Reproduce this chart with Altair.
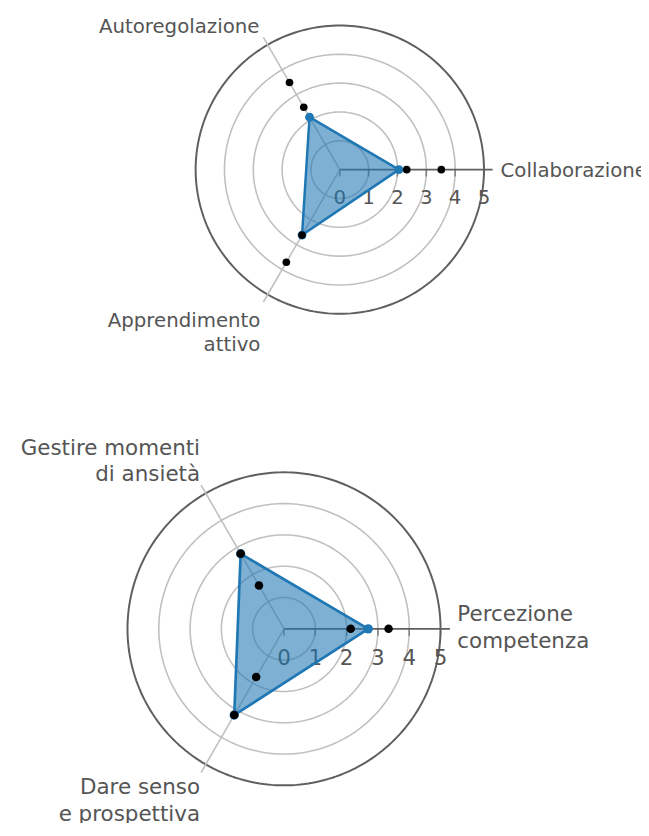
import altair as alt
import numpy as np
import pandas as pd

# ---------------- data ----------------
angles_deg = [0, 120, 240]
tick_values = [0, 1, 2, 3, 4, 5]
tick_labels = ["0", "1", "2", "3", "4", "5"]
grid_levels = [1, 2, 3, 4, 5]
axis_max = 5.3

top_categories = ["Collaborazione", "Autoregolazione", "Apprendimento\nattivo"]
top_blue = [2.05, 2.1, 2.62]
top_black_a = [2.32, 2.5, 2.62]
top_black_b = [3.52, 3.49, 3.71]

bottom_categories = ["Percezione\ncompetenza", "Gestire momenti\ndi ansietà", "Dare senso\ne prospettiva"]
bottom_blue = [2.69, 2.77, 3.18]
bottom_black_a = [2.13, 2.77, 3.18]
bottom_black_b = [3.34, 1.6, 1.78]

FONT = "DejaVu Sans"
TXT = "#555555"
BLUE = "#1f77b4"


def polar_df(values, extra=None):
    th = np.deg2rad(angles_deg)
    v = np.array(values, dtype=float)
    df = pd.DataFrame({"x": v * np.cos(th), "y": v * np.sin(th)})
    if extra:
        for key, val in extra.items():
            df[key] = val
    return df


def radar(cats, blue, black_a, black_b, k, cx, cy, W, H, font_size,
          label_styles, line_h, tick_dy, pt_blue, pt_black, line_w):
    xdom = [-cx / k, (W - cx) / k]
    ydom = [-(H - cy) / k, cy / k]
    X = alt.X("x:Q", scale=alt.Scale(domain=xdom, nice=False, zero=False), axis=None)
    Y = alt.Y("y:Q", scale=alt.Scale(domain=ydom, nice=False, zero=False), axis=None)

    # grid circles
    t = np.linspace(0, 2 * np.pi, 241)
    rows = []
    for lv in grid_levels:
        for i, tt in enumerate(t):
            rows.append({"x": lv * np.cos(tt), "y": lv * np.sin(tt), "o": i, "lv": lv})
    grid = pd.DataFrame(rows)
    inner = alt.Chart(grid[grid.lv < 5]).mark_line(
        color="#c0c0c0", strokeWidth=1.6
    ).encode(x=X, y=Y, detail="lv:N", order="o:Q")
    outer = alt.Chart(grid[grid.lv == 5]).mark_line(
        color="#5f5f5f", strokeWidth=2
    ).encode(x=X, y=Y, detail="lv:N", order="o:Q")

    # axis lines
    th = np.deg2rad(angles_deg)
    ax = pd.DataFrame({
        "x": [0.0] * 3, "y": [0.0] * 3,
        "x2": axis_max * np.cos(th), "y2": axis_max * np.sin(th),
        "c": ["#5f5f5f", "#c0c0c0", "#c0c0c0"],
    })
    axes = alt.Chart(ax).mark_rule(strokeWidth=1.6).encode(
        x=X, y=Y, x2="x2:Q", y2="y2:Q", color=alt.Color("c:N", scale=None)
    )

    # ticks + tick labels
    tk = pd.DataFrame({"x": tick_values, "y": [0] * len(tick_values), "lab": tick_labels})
    ticks = alt.Chart(tk).mark_tick(
        orient="vertical", size=7, thickness=1.5, yOffset=3.5, color="#5f5f5f"
    ).encode(x=X, y=Y)
    tlabels = alt.Chart(tk).mark_text(
        dy=tick_dy, fontSize=font_size, font=FONT, color=TXT, baseline="middle"
    ).encode(x=X, y=Y, text="lab:N")

    # polygon
    poly = polar_df(blue, {"o": [0, 1, 2]})
    poly = pd.concat([poly, poly.iloc[[0]].assign(o=3)], ignore_index=True)
    area = alt.Chart(poly).mark_line(
        fill=BLUE, fillOpacity=0.58, stroke=BLUE, strokeWidth=line_w
    ).encode(x=X, y=Y, order="o:Q")

    bpts = alt.Chart(polar_df(blue)).mark_circle(size=pt_blue, color=BLUE, opacity=1).encode(x=X, y=Y)
    kdf = pd.concat([polar_df(black_a), polar_df(black_b)], ignore_index=True)
    kpts = alt.Chart(kdf).mark_circle(size=pt_black, color="black", opacity=1).encode(x=X, y=Y)

    layers = [inner, outer, axes, ticks, tlabels, area, bpts, kpts]

    # category labels
    for i, cat in enumerate(cats):
        align, dx, dy = label_styles[i]
        ldf = pd.DataFrame({
            "x": [axis_max * np.cos(th[i])], "y": [axis_max * np.sin(th[i])], "lab": [cat]
        })
        layers.append(alt.Chart(ldf).mark_text(
            align=align, baseline="alphabetic", dx=dx, dy=dy, lineBreak="\n",
            lineHeight=line_h, fontSize=font_size, font=FONT, color=TXT, clip=True
        ).encode(x=X, y=Y, text="lab:N"))

    return alt.layer(*layers).properties(width=W, height=H)


top = radar(top_categories, top_blue, top_black_a, top_black_b,
            k=29.2, cx=336, cy=158.5, W=641, H=372, font_size=20,
            label_styles=[("left", 8, 7), ("right", -4, -4), ("right", -3, 25)],
            line_h=25, tick_dy=29, pt_blue=80, pt_black=60, line_w=2.5)

bottom = radar(bottom_categories, bottom_blue, bottom_black_a, bottom_black_b,
               k=31.7, cx=279.5, cy=251.5, W=641, H=448, font_size=21.7,
               label_styles=[("left", 7.5, -8), ("right", -1, -31), ("right", -1, 22)],
               line_h=27, tick_dy=30, pt_blue=90, pt_black=75, line_w=2.7)

chart = alt.vconcat(top, bottom, spacing=0, bounds="flush").properties(
    padding=0
).configure_view(stroke=None)

chart.save("out.html", embed_options={"renderer": "svg", "actions": False})
